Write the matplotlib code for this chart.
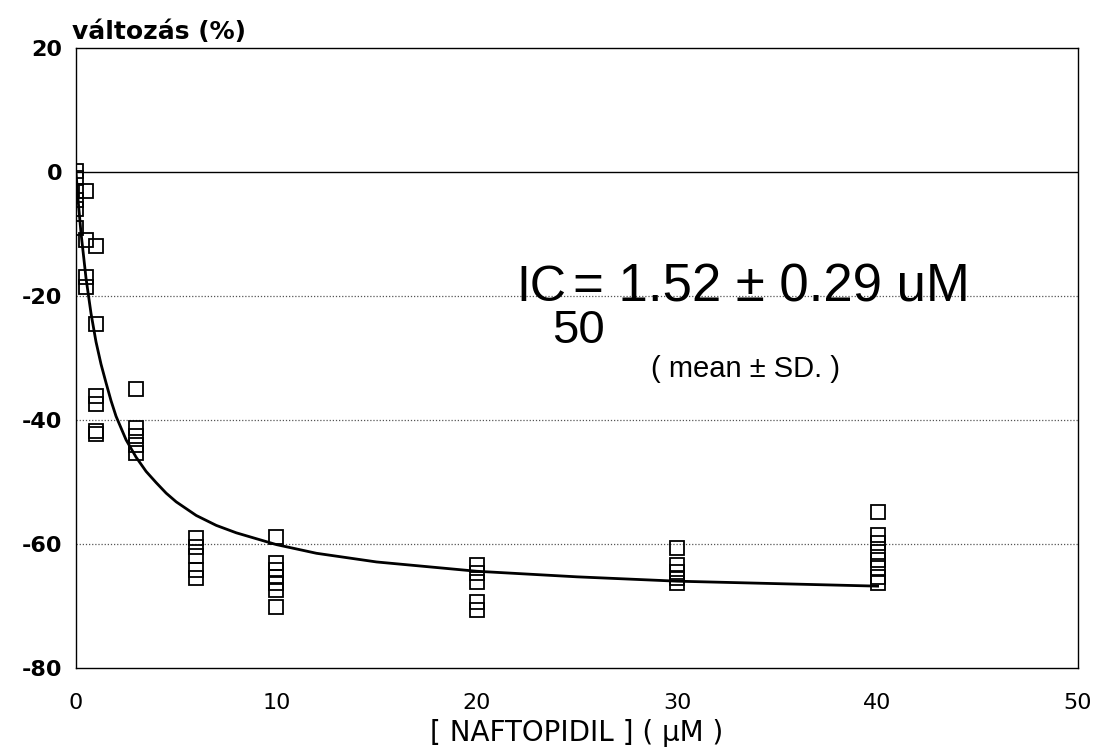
import matplotlib
matplotlib.use("Agg")
import matplotlib.pyplot as plt

plt.rcParams['font.family'] = ['DejaVu Sans']
plt.rcParams['axes.unicode_minus'] = False

# measured points: concentration (uM) and change (%)
conc = [0, 0, 0, 0, 0, 0,
        0.5, 0.5, 0.5, 0.5,
        1, 1, 1, 1, 1, 1,
        3, 3, 3, 3, 3,
        6, 6, 6, 6, 6,
        10, 10, 10, 10, 10, 10, 10,
        20, 20, 20, 20, 20,
        30, 30, 30, 30, 30,
        40, 40, 40, 40, 40, 40, 40, 40]
change = [0.2, -1.0, -3.0, -4.5, -6.0, -9.0,
          -3.0, -11.0, -17.0, -18.5,
          -12.0, -24.5, -36.2, -37.5, -41.8, -42.3,
          -35.0, -41.3, -42.6, -44.0, -45.3,
          -59.0, -60.5, -62.0, -64.2, -65.5,
          -58.9, -63.0, -64.2, -65.3, -66.3, -67.4, -70.2,
          -63.4, -64.7, -66.1, -69.4, -70.6,
          -60.6, -63.4, -64.5, -65.5, -66.3,
          -54.8, -58.5, -59.8, -61.3, -62.6, -63.9, -65.3, -66.3]

# fitted curve
curve_x = [0, 0.1, 0.25, 0.5, 0.75, 1, 1.25, 1.5, 1.75, 2, 2.5, 3, 3.5, 4,
           4.5, 5, 6, 7, 8, 10, 12, 15, 20, 25, 30, 35, 40]
curve_y = [0, -4.3, -9.8, -17.1, -22.8, -27.4, -31.0, -34.0, -36.9, -39.4,
           -43.2, -46.0, -48.3, -50.1, -51.8, -53.2, -55.4, -57.0, -58.2,
           -60.1, -61.5, -62.9, -64.4, -65.3, -66.0, -66.4, -66.8]

xticks = [0, 10, 20, 30, 40, 50]
yticks = [20, 0, -20, -40, -60, -80]

fig = plt.figure(figsize=(11.14, 7.54), dpi=100)
ax = fig.add_axes([0.0682, 0.1141, 0.8995, 0.8222])

for y in [-20, -40, -60]:
    ax.axhline(y, color='#555555', lw=0.9, ls=(0, (1, 1.5)), zorder=1)
ax.axhline(0, color='black', lw=1.0, zorder=1)

ax.plot(curve_x, curve_y, color='black', lw=2.0, zorder=3)
ax.plot(conc, change, ls='none', marker='s', ms=10, mfc='none',
        mec='black', mew=1.3, zorder=4)

ax.set_xlim(0, 50)
ax.set_ylim(-80, 20)
ax.set_xticks(xticks)
ax.set_yticks(yticks)
ax.tick_params(length=0)
ax.tick_params(axis='y', labelsize=16, pad=10)
ax.tick_params(axis='x', labelsize=16, pad=18)
for lab in ax.get_yticklabels():
    lab.set_fontweight('bold')
for s in ax.spines.values():
    s.set_linewidth(1.0)

ax.set_xlabel('[ NAFTOPIDIL ] ( μM )', fontsize=20, labelpad=4)
fig.text(0.065, 0.958, 'változás (%)', fontsize=18, fontweight='bold',
         ha='left', va='center')

ann = ['Liberation Sans', 'DejaVu Sans']
ax.text(22.0, -18.7, 'IC', fontsize=36, va='center', ha='left', family=ann)
ax.text(24.8, -18.7, '= 1.52 ± 0.29 uM', fontsize=38, va='center', ha='left',
        family=ann)
ax.text(23.75, -25.6, '50', fontsize=34, va='center', ha='left', family=ann)
ax.text(28.7, -31.8, '( mean ± SD. )', fontsize=21, va='center', ha='left',
        family=ann)

fig.savefig('out.png', dpi=100)
